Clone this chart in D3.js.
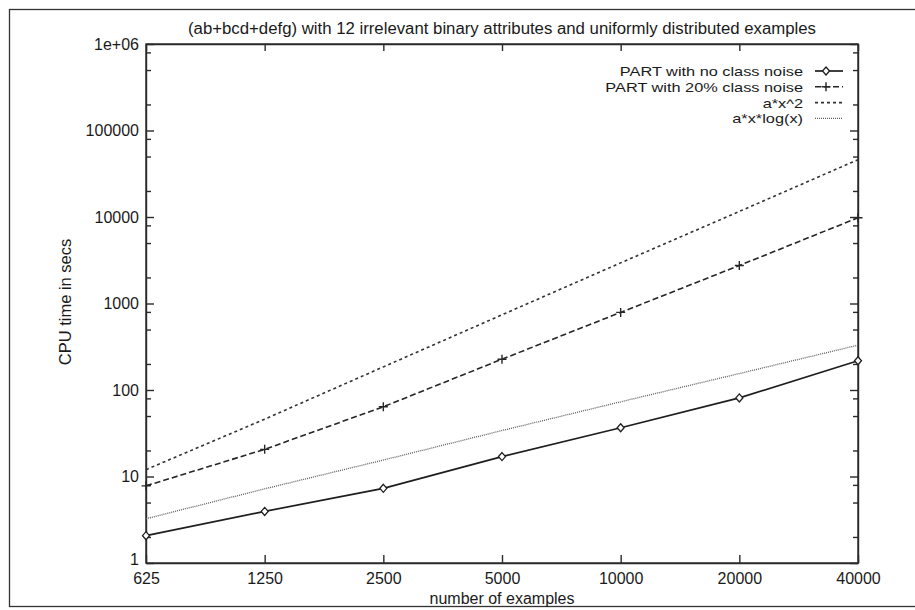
<!DOCTYPE html>
<html>
<head>
<meta charset="utf-8">
<script src="https://cdn.jsdelivr.net/npm/d3@7"></script>
<style>
  body { margin: 0; background: #fff; }
  svg { display: block; font-family: "Liberation Sans", Arial, sans-serif; }
  .axis path, .axis line { stroke: #2a2a2a; stroke-width: 1.4; }
  .axis text { fill: #1a1a1a; font-size: 16px; }
</style>
</head>
<body>
<div id="chart"></div>
<script>
// data
const sizes = [625, 1250, 2500, 5000, 10000, 20000, 40000];
const noNoise = [2.07, 3.95, 7.3, 17, 36.6, 81, 218];
const noise20 = [7.8, 20.6, 64, 227, 789, 2750, 9800];
const quadFit = [12, 46, 185, 740, 2950, 11600, 46000];
const xlogxFit = [3.25, 7.2, 15.5, 34, 73, 155, 330];
const yTicks = [1, 10, 100, 1000, 10000, 100000, 1000000];
const yTickLabels = ["1", "10", "100", "1000", "10000", "100000", "1e+06"];
const yMinorSteps = [2, 5, 8];

const seriesNames = ["PART with no class noise", "PART with 20% class noise", "a*x^2", "a*x*log(x)"];
const seriesValues = [noNoise, noise20, quadFit, xlogxFit];

const width = 915, height = 610;
const margin = {top: 44, right: 57, bottom: 47, left: 146};
const innerW = width - margin.left - margin.right;
const innerH = height - margin.top - margin.bottom;

// line style per series: dash, stroke, width, marker
const styles = [
    {dash: null, color: "#1e1e1e", width: 1.7, marker: "diamond"},
    {dash: "6,3", color: "#262626", width: 1.6, marker: "plus"},
    {dash: "3,3", color: "#333", width: 1.6, marker: null},
    {dash: "1,1", color: "#5e5e5e", width: 1.3, marker: null}
];

const svg = d3.select("#chart").append("svg")
    .attr("width", width)
    .attr("height", height);

// outer frame of the scanned page
svg.append("rect")
    .attr("x", 9.5).attr("y", 9.5)
    .attr("width", 930).attr("height", 597)
    .attr("fill", "none")
    .attr("stroke", "#333")
    .attr("stroke-width", 1.3);

const g = svg.append("g")
    .attr("transform", `translate(${margin.left},${margin.top})`);

const x = d3.scaleLog().base(2)
    .domain([sizes[0], sizes[sizes.length - 1]])
    .range([0, innerW]);
const y = d3.scaleLog()
    .domain([1, 1000000])
    .range([innerH, 0]);

// minor y ticks
const minorTicks = [];
yTicks.slice(0, -1).forEach(t => yMinorSteps.forEach(s => minorTicks.push(t * s)));

g.append("g").attr("class", "axis")
    .call(d3.axisLeft(y).tickValues(minorTicks).tickSize(-5).tickFormat(""))
    .select(".domain").remove();
g.append("g").attr("class", "axis")
    .attr("transform", `translate(${innerW},0)`)
    .call(d3.axisRight(y).tickValues(minorTicks).tickSize(-5).tickFormat(""))
    .select(".domain").remove();

// major ticks with labels
g.append("g").attr("class", "axis")
    .call(d3.axisLeft(y).tickValues(yTicks).tickSize(-8).tickSizeOuter(0).tickPadding(7)
        .tickFormat((d, i) => yTickLabels[i]))
    .selectAll(".tick text")
    .attr("dy", (d, i) => i === 0 ? "0.12em" : "0.32em");
g.append("g").attr("class", "axis")
    .attr("transform", `translate(${innerW},0)`)
    .call(d3.axisRight(y).tickValues(yTicks).tickSize(-8).tickSizeOuter(0).tickFormat(""));
g.append("g").attr("class", "axis")
    .attr("transform", `translate(0,${innerH})`)
    .call(d3.axisBottom(x).tickValues(sizes).tickSize(-8).tickSizeOuter(0).tickPadding(10)
        .tickFormat(d3.format("d")));
g.append("g").attr("class", "axis")
    .call(d3.axisTop(x).tickValues(sizes).tickSize(-7).tickSizeOuter(0).tickFormat(""));

// close the frame
g.append("rect")
    .attr("width", innerW).attr("height", innerH)
    .attr("fill", "none")
    .attr("stroke", "#2a2a2a")
    .attr("stroke-width", 1.4);

// series lines
const line = d3.line()
    .x((d, i) => x(sizes[i]))
    .y(d => y(d));

seriesValues.forEach((vals, k) => {
    const st = styles[k];
    g.append("path")
        .datum(vals)
        .attr("d", line)
        .attr("fill", "none")
        .attr("stroke", st.color)
        .attr("stroke-width", st.width)
        .attr("stroke-dasharray", st.dash);
});

function drawMarker(sel, type, color) {
    if (type === "diamond") {
        sel.append("path")
            .attr("d", "M0,-4L3.5,0L0,4L-3.5,0Z")
            .attr("fill", "#fff")
            .attr("stroke", color)
            .attr("stroke-width", 1.3);
    } else if (type === "plus") {
        sel.append("path")
            .attr("d", "M-4.5,0H4.5M0,-4.5V4.5")
            .attr("stroke", color)
            .attr("stroke-width", 1.4);
    }
}

seriesValues.forEach((vals, k) => {
    const st = styles[k];
    if (!st.marker) return;
    g.selectAll(".pt" + k)
        .data(vals)
        .enter()
        .append("g")
        .attr("class", "pt" + k)
        .attr("transform", (d, i) => `translate(${x(sizes[i])},${y(d)})`)
        .each(function () { drawMarker(d3.select(this), st.marker, st.color); });
});

// legend: the scan's text is wide for its height, so stretch it a little
const legend = g.append("g")
    .attr("transform", `translate(${innerW - 55},${27})`);
seriesNames.forEach((name, k) => {
    const st = styles[k];
    const row = legend.append("g").attr("transform", `translate(0,${k * 15.8})`);
    const txt = row.append("text")
        .attr("x", 0)
        .attr("dy", "0.36em")
        .attr("text-anchor", "end")
        .attr("font-size", 13.6)
        .attr("fill", "#1a1a1a")
        .text(name);
    const w = txt.node().getComputedTextLength();
    txt.attr("textLength", w * 1.2).attr("lengthAdjust", "spacingAndGlyphs");
    row.append("line")
        .attr("x1", 12).attr("x2", 40)
        .attr("stroke", st.color)
        .attr("stroke-width", st.width)
        .attr("stroke-dasharray", st.dash);
    if (st.marker) {
        const m = row.append("g").attr("transform", "translate(23,0)");
        drawMarker(m, st.marker, st.color);
    }
});

// titles
svg.append("text")
    .attr("x", margin.left + innerW / 2)
    .attr("y", 34)
    .attr("text-anchor", "middle")
    .attr("font-size", 16)
    .attr("fill", "#1a1a1a")
    .attr("textLength", 628)
    .attr("lengthAdjust", "spacingAndGlyphs")
    .text("(ab+bcd+defg) with 12 irrelevant binary attributes and uniformly distributed examples");

svg.append("text")
    .attr("x", margin.left + innerW / 2)
    .attr("y", 604)
    .attr("text-anchor", "middle")
    .attr("font-size", 16)
    .attr("fill", "#1a1a1a")
    .text("number of examples");

svg.append("text")
    .attr("transform", "translate(71,302) rotate(-90)")
    .attr("text-anchor", "middle")
    .attr("font-size", 16.5)
    .attr("fill", "#1a1a1a")
    .text("CPU time in secs");
</script>
</body>
</html>
